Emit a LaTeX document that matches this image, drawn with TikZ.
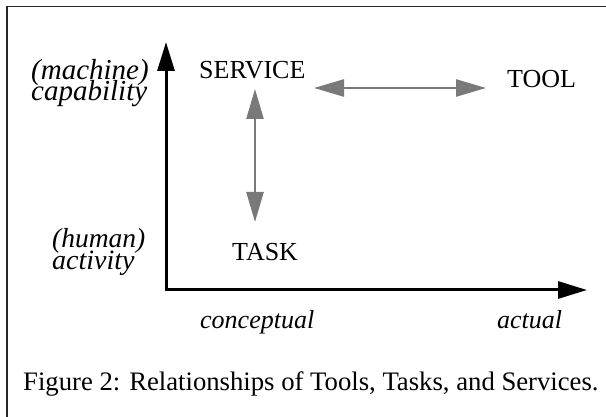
\documentclass[tikz,border=0pt]{standalone}
\usepackage{fontspec}
\setmainfont{Liberation Serif}
\usetikzlibrary{arrows.meta}
\tikzset{
  axis/.style={line width=3pt, black, line join=miter,
    arrows={Triangle[length=29pt,width=17pt]-Triangle[length=29pt,width=17pt]}},
  relation/.style={line width=2.5pt, draw=gray!95!black,
    arrows={Triangle[length=30pt,width=17pt]-Triangle[length=30pt,width=17pt]}},
  term/.style={inner sep=0pt, anchor=base west, font=\fontsize{26}{26}\selectfont},
  dimlabel/.style={inner sep=0pt, anchor=base west, font=\fontsize{#1}{#1}\selectfont\itshape},
  dimlabel/.default=26,
  % tightly stacked label lines: keep their boxes from overlapping
  stacked/.style={text height=15pt, text depth=4pt}
  ,framerule/.style={line width=1.5pt, black!85}
}
\begin{document}
\begin{tikzpicture}[x=1pt, y=-1pt]
  \useasboundingbox (0,0) rectangle (606,417);
  % open frame: top and left rules only
  \coordinate (frameTR) at (606,6.5);
  \coordinate (frameTL) at (7,6.5);
  \coordinate (frameBL) at (7,417);
  \draw[framerule] (frameTR) -- (frameTL) -- (frameBL);

  % axes
  \coordinate (ytip) at (166,42);
  \coordinate (origin) at (166,290);
  \coordinate (xtip) at (587,290);
  \draw[axis] (ytip) -- (origin) -- (xtip);

  % vertical axis labels
  \node[dimlabel=29, stacked] (machine) at (31,80) {(machine)};
  \node[dimlabel=29, stacked] (capability) at (31,101) {capability};
  \node[dimlabel=27.5, stacked] (human) at (52,248) {(human)};
  \node[dimlabel=28, stacked] (activity) at (52,270) {activity};
  % horizontal axis labels
  \node[dimlabel] (conceptual) at (200,328) {conceptual};
  \node[dimlabel] (actual) at (497,328) {actual};

  % terms
  \node[term] (service) at (199,79) {SERVICE};
  \node[term] (tool) at (507,88) {TOOL};
  \node[term] (task) at (232,261) {TASK};

  % relations
  \coordinate (svcS) at (255,89);
  \coordinate (taskN) at (255,222);
  \coordinate (svcE) at (314,88);
  \coordinate (toolW) at (486,88);
  \draw[relation] (svcS) -- (taskN);
  \draw[relation] (svcE) -- (toolW);

  % caption
  \node[term, font=\fontsize{26.7}{26.7}\selectfont] (caption) at (23,390)
    {Figure 2: Relationships of Tools, Tasks, and Services.};
\end{tikzpicture}
\end{document}
